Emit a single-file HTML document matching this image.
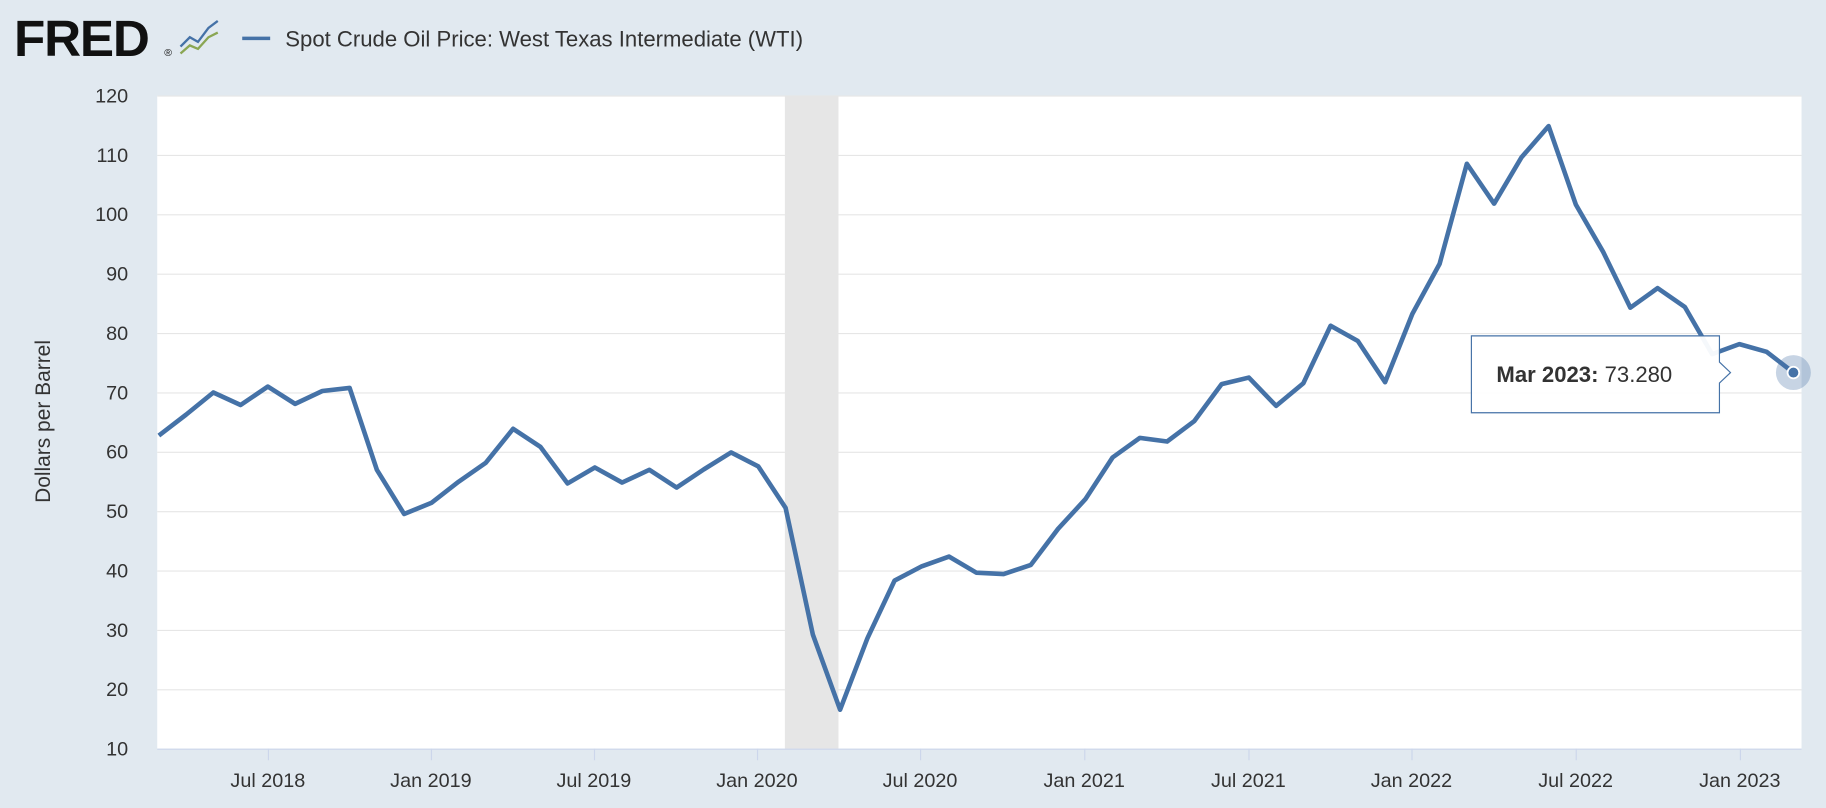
<!DOCTYPE html>
<html><head><meta charset="utf-8"><style>
html,body{margin:0;padding:0;background:#e1e9f0;}
svg{display:block;font-family:"Liberation Sans",sans-serif;}
</style></head><body>
<svg width="1826" height="808" viewBox="0 0 1568 694" preserveAspectRatio="none">
<rect width="1568" height="694" fill="#e1e9f0"/>
<text x="12" y="48" font-size="44" font-weight="bold" fill="#111" letter-spacing="-1">FRED</text>
<text x="141" y="48" font-size="9" fill="#111">®</text>
<g transform="translate(153,14)">
<polyline points="2,26 10,18 17,22 26,10 34,4" fill="none" stroke="#4572a7" stroke-width="2"/>
<polyline points="2,32 10,25 17,28 26,18 34,14" fill="none" stroke="#8aa653" stroke-width="2"/>
</g>
<line x1="208" y1="33" x2="232" y2="33" stroke="#4572a7" stroke-width="3"/>
<text x="245" y="40" font-size="19" fill="#333">Spot Crude Oil Price: West Texas Intermediate (WTI)</text>
<rect x="135" y="82" width="1412" height="561" fill="#fff"/>
<rect x="674" y="82" width="46" height="561" fill="#e6e6e6"/>
<g stroke="#e6e6e6" stroke-width="1">
<line x1="135" y1="82.5" x2="1547" y2="82.5"/><line x1="135" y1="133.5" x2="1547" y2="133.5"/>
<line x1="135" y1="184.5" x2="1547" y2="184.5"/><line x1="135" y1="235.5" x2="1547" y2="235.5"/>
<line x1="135" y1="286.5" x2="1547" y2="286.5"/><line x1="135" y1="337.5" x2="1547" y2="337.5"/>
<line x1="135" y1="388.5" x2="1547" y2="388.5"/><line x1="135" y1="439.5" x2="1547" y2="439.5"/>
<line x1="135" y1="490.5" x2="1547" y2="490.5"/><line x1="135" y1="541.5" x2="1547" y2="541.5"/>
<line x1="135" y1="592.5" x2="1547" y2="592.5"/>
</g>
<line x1="135" y1="643.5" x2="1547" y2="643.5" stroke="#ccd6eb"/>
<g stroke="#ccd6eb">
<line x1="230.5" y1="643" x2="230.5" y2="653"/><line x1="370.5" y1="643" x2="370.5" y2="653"/>
<line x1="510.5" y1="643" x2="510.5" y2="653"/><line x1="650.5" y1="643" x2="650.5" y2="653"/>
<line x1="790.5" y1="643" x2="790.5" y2="653"/><line x1="931.5" y1="643" x2="931.5" y2="653"/>
<line x1="1072.5" y1="643" x2="1072.5" y2="653"/><line x1="1212.5" y1="643" x2="1212.5" y2="653"/>
<line x1="1353.5" y1="643" x2="1353.5" y2="653"/><line x1="1494.5" y1="643" x2="1494.5" y2="653"/>
</g>
<g font-size="17" fill="#333" text-anchor="end">
<text x="110" y="88">120</text><text x="110" y="139">110</text><text x="110" y="190">100</text>
<text x="110" y="241">90</text><text x="110" y="292">80</text><text x="110" y="343">70</text>
<text x="110" y="394">60</text><text x="110" y="445">50</text><text x="110" y="496">40</text>
<text x="110" y="547">30</text><text x="110" y="598">20</text><text x="110" y="649">10</text>
</g>
<g font-size="17" fill="#333" text-anchor="middle">
<text x="230" y="676">Jul 2018</text><text x="370" y="676">Jan 2019</text><text x="510" y="676">Jul 2019</text>
<text x="650" y="676">Jan 2020</text><text x="790" y="676">Jul 2020</text><text x="931" y="676">Jan 2021</text>
<text x="1072" y="676">Jul 2021</text><text x="1212" y="676">Jan 2022</text><text x="1353" y="676">Jul 2022</text>
<text x="1494" y="676">Jan 2023</text>
</g>
<text transform="translate(43,362) rotate(-90)" font-size="18" fill="#333" text-anchor="middle">Dollars per Barrel</text>
<clipPath id="c"><rect x="135" y="70" width="1420" height="580"/></clipPath>
<g clip-path="url(#c)">
<g transform="translate(136.4,694) scale(23.4,-5.1)">
<polyline vector-effect="non-scaling-stroke" fill="none" stroke="#4572a7" stroke-width="4.6" stroke-linejoin="round" points="0,62.72 1,66.25 2,69.98 3,67.87 4,70.98 5,68.06 6,70.23 7,70.75 8,56.96 9,49.52 10,51.38 11,54.95 12,58.15 13,63.86 14,60.83 15,54.66 16,57.35 17,54.81 18,56.95 19,53.96 20,57.03 21,59.88 22,57.52 23,50.54 24,29.21 25,16.55 26,28.56 27,38.31 28,40.71 29,42.34 30,39.63 31,39.40 32,40.94 33,47.02 34,52.00 35,59.04 36,62.33 37,61.72 38,65.17 39,71.38 40,72.49 41,67.73 42,71.54 43,81.22 44,78.65 45,71.71 46,83.22 47,91.64 48,108.50 49,101.78 50,109.55 51,114.84 52,101.62 53,93.67 54,84.26 55,87.55 56,84.37 57,76.44 58,78.12 59,76.83 60,73.28"/>
</g>
</g>
<circle cx="1540" cy="320" r="15" fill="#4572a7" opacity="0.3"/>
<circle cx="1540" cy="320" r="5" fill="#4572a7" stroke="#fff" stroke-width="1.5"/>
<path d="M1263.5,288.5 H1476.5 V311 L1486,320 L1476.5,329 V354.5 H1263.5 Z" fill="#fff" fill-opacity="0.95" stroke="#4572a7" stroke-width="1"/>
<text x="1285" y="328" font-size="19" fill="#333"><tspan font-weight="bold">Mar 2023:</tspan> 73.280</text>
</svg>
</body></html>
